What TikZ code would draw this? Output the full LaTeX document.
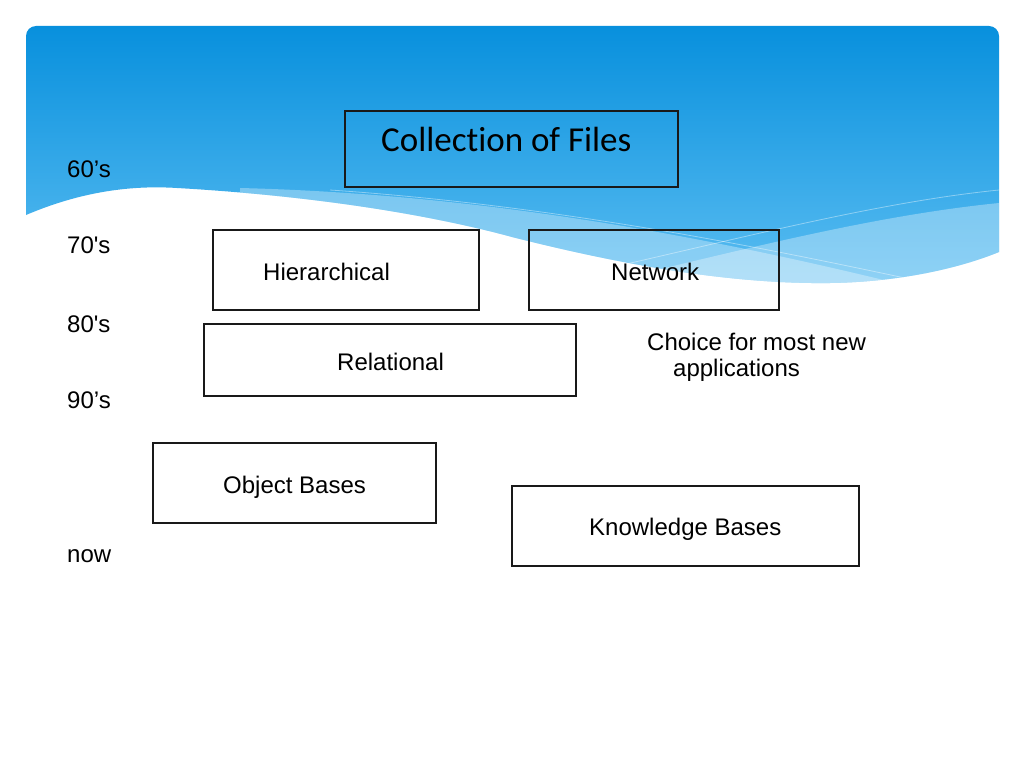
\documentclass[tikz,border=0pt]{standalone}
\usepackage{fontspec}
\setmainfont{Liberation Sans}[Ligatures=TeXOff]
\newfontfamily\calibrifont{Carlito}[Ligatures=NoCommon]
\definecolor{blueTop}{RGB}{8,144,221}
\definecolor{blueBot}{RGB}{92,190,242}
\definecolor{boxline}{RGB}{25,25,25}
\begin{document}
\begin{tikzpicture}[x=1pt,y=-1pt,
  box/.style={draw=boxline,line width=1.2pt,inner sep=0pt,minimum width=#1},
  txt/.style={anchor=base west,inner sep=0pt,font=\fontsize{24}{28}\selectfont},
  band/.style={fill=white,opacity=0.32},
  sheen/.style={draw=white,opacity=0.4,line width=0.8pt}]
\useasboundingbox (0,0) rectangle (1024,768);
\fill[white] (0,0) rectangle (1024,768);
% header
\begin{scope}
  \clip[rounded corners=10pt] (26,26) rectangle (999,300);
  \clip (26,215) .. controls (80,192) and (130,185) .. (177,188)
        .. controls (300,195) and (420,212) .. (512,237)
        .. controls (650,272) and (750,284) .. (830,283)
        .. controls (900,282) and (960,268) .. (999,252)
        -- (999,26) -- (26,26) -- cycle;
  \shade[top color=blueTop,bottom color=blueBot] (26,26) rectangle (999,290);
  \fill[band] (240,188) .. controls (480,194) and (700,235) .. (900,284) -- (1000,300) -- (240,300) -- cycle;
  \fill[band] (560,292) .. controls (700,262) and (850,218) .. (999,203) -- (1000,300) -- cycle;
  \draw[sheen] (600,270) .. controls (750,236) and (880,202) .. (999,190);
  \draw[sheen] (330,190) .. controls (550,205) and (750,245) .. (905,278);
\end{scope}
% boxes
\node[box=333pt,minimum height=76pt] (files) at (511.5,149) {};
\node[box=266pt,minimum height=80pt] (hier) at (346,270) {};
\node[box=250pt,minimum height=80pt] (net) at (654,270) {};
\node[box=372pt,minimum height=72pt] (rel) at (390,360) {};
\node[box=283pt,minimum height=80pt] (obj) at (294.5,483) {};
\node[box=347pt,minimum height=80pt] (know) at (685.5,526) {};
% texts
\node[anchor=base west,inner sep=0pt,font=\calibrifont\fontsize{35}{40}\selectfont] (tfiles) at (381,151) {Collection of Files};
\node[txt] (thier) at (263,280) {Hierarchical};
\node[txt] (tnet) at (611,280) {Network};
\node[txt] (trel) at (337,370) {Relational};
\node[txt] (tobj) at (223,493) {Object Bases};
\node[txt] (tknow) at (589,535) {Knowledge Bases};
\node[txt] (tchoice1) at (647,350) {Choice for most new};
\node[txt] (tchoice2) at (673,376) {applications};
% time labels
\node[txt] (l60) at (67,177) {60’s};
\node[txt] (l70) at (67,253) {70's};
\node[txt] (l80) at (67,332) {80's};
\node[txt] (l90) at (67,408) {90’s};
\node[txt] (lnow) at (67,562) {now};
\end{tikzpicture}
\end{document}
